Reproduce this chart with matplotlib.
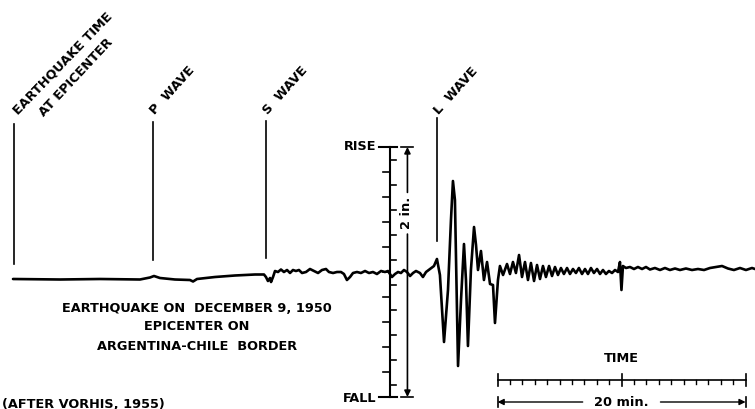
import matplotlib
matplotlib.use("Agg")
import matplotlib.pyplot as plt
import numpy as np

# ---- data: time in minutes after earthquake, ground motion in inches ----
trace_t = [-0.08, 3.71, 6.94, 10.16, 10.97, 11.29, 11.77, 12.98, 14.19, 14.44, 14.76, 16.21, 17.82, 19.44, 20.16,
           20.32, 20.48, 20.65, 20.73, 20.89, 21.05, 21.29, 21.53, 21.77, 22.02, 22.26, 22.50, 22.74, 22.98, 23.23,
           23.55, 23.87, 24.19, 24.52, 24.84, 25.16, 25.40, 25.73, 26.05, 26.37, 26.61, 26.85, 27.10, 27.34, 27.66,
           27.98, 28.31, 28.63, 28.95, 29.27, 29.60, 29.92, 30.16, 30.48, 30.73, 30.97, 31.21, 31.45, 31.69, 31.94,
           32.18, 32.42, 32.74, 32.98, 33.23, 33.55, 33.87, 34.11,
           34.35, 34.68, 35.00, 35.24, 35.40, 35.56, 35.81, 36.05, 36.29, 36.45, 36.61, 36.85, 37.10, 37.26, 37.42,
           37.66, 37.90, 38.15, 38.39, 38.63, 38.79, 39.03, 39.19, 39.44, 39.76, 40.00, 40.24, 40.48, 40.73, 40.97,
           41.21, 41.45, 41.69, 41.94, 42.18, 42.42, 42.66, 42.90, 43.15, 43.39, 43.63, 43.87, 44.11, 44.35, 44.60,
           44.84, 45.08, 45.32, 45.56, 45.81, 46.05, 46.29, 46.53, 46.77, 47.02, 47.26, 47.50, 47.74, 47.98, 48.23,
           48.47, 48.71, 48.87, 48.99, 49.11, 49.35,
           49.68, 50.00, 50.32, 50.65, 50.97, 51.29, 51.69, 52.10, 52.50, 52.90, 53.31, 53.71, 54.19, 54.68, 55.16,
           55.65, 56.13, 56.61, 57.10, 57.58, 58.06, 58.55, 59.03, 59.52, 59.76]
trace_d = [-0.056, -0.06, -0.056, -0.06, -0.044, -0.032, -0.048, -0.06, -0.064, -0.076, -0.056, -0.04, -0.028, -0.02, -0.02,
           -0.04, -0.072, -0.048, -0.08, -0.04, 0.008, 0.0, 0.02, 0.0, 0.016, -0.008, 0.016, 0.008, 0.016, -0.008,
           0.0, 0.024, 0.008, -0.008, 0.016, 0.024, 0.0, -0.008, 0.0, 0.0, -0.016, -0.064, -0.04, -0.008, 0.0,
           -0.008, 0.008, -0.008, 0.0, -0.016, 0.008, 0.0, 0.008, -0.04, -0.016, 0.0, -0.008, 0.016, 0.0, -0.032,
           -0.008, 0.008, -0.008, -0.04, 0.0, 0.024, 0.048, 0.104,
           -0.024, -0.56, -0.144, 0.416, 0.728, 0.576, -0.752, -0.224, 0.224, -0.064, -0.592, 0.016, 0.36, 0.216, 0.016,
           0.168, -0.064, 0.08, -0.096, -0.104, -0.408, -0.064, 0.048, -0.024, 0.064, -0.016, 0.08, -0.008, 0.136, -0.04,
           0.08, -0.064, 0.072, -0.072, 0.056, -0.056, 0.048, -0.04, 0.048, -0.032, 0.04, -0.024, 0.032, -0.016, 0.032,
           -0.016, 0.024, -0.008, 0.032, -0.016, 0.024, -0.016, 0.032, -0.008, 0.024, -0.016, 0.016, -0.016, 0.008, -0.008,
           0.016, 0.0, 0.08, -0.144, 0.048, 0.032,
           0.04, 0.024, 0.04, 0.024, 0.04, 0.02, 0.032, 0.016, 0.032, 0.016, 0.028, 0.016, 0.028, 0.016, 0.024,
           0.016, 0.032, 0.04, 0.048, 0.028, 0.016, 0.032, 0.016, 0.032, 0.024]

event_labels = ["EARTHQUAKE TIME\nAT EPICENTER", "P  WAVE", "S  WAVE", "L  WAVE"]
event_times = [0.0, 11.21, 20.32, 34.11]

scale_range_in = 1.0          # RISE / FALL  +-1 in  (2 in. total)
scale_step_in = 0.1
time_bar_start = 39.0
time_bar_minutes = 20

caption = ["EARTHQUAKE ON  DECEMBER 9, 1950", "EPICENTER ON", "ARGENTINA-CHILE  BORDER"]
credit = "(AFTER VORHIS, 1955)"

# ---- figure ----
fig = plt.figure(figsize=(7.55, 4.09), dpi=100)
ax = fig.add_axes([0, 0, 1, 1])
ax.set_xlim(-1.129, 59.76)
ax.set_ylim(-1.096, 2.176)
ax.axis("off")

font = dict(family="DejaVu Sans", fontsize=9.3, fontweight="bold", color="black")

# seismogram trace
ax.plot(trace_t, trace_d, color="black", lw=1.9, solid_joinstyle="round", solid_capstyle="round")

# event markers and labels
marker_tops = [1.184, 1.2, 1.208, 1.232]
marker_bots = [0.064, 0.096, 0.112, 0.248]
for i, (lab, t) in enumerate(zip(event_labels, event_times)):
    ax.plot([t, t], [marker_bots[i], marker_tops[i]], color="black", lw=1.2)
    if i == 0:
        ax.text(t + 0.3, 1.256, "EARTHQUAKE TIME", rotation=46, rotation_mode="anchor",
                ha="left", va="baseline", **font)
        ax.text(t + 2.4, 1.24, "AT EPICENTER", rotation=47, rotation_mode="anchor",
                ha="left", va="baseline", **font)
    else:
        ax.text(t + 0.15, 1.256, lab, rotation=48, rotation_mode="anchor",
                ha="left", va="baseline", **font)

# vertical amplitude scale
sx = 30.32
ax.plot([sx, sx], [-scale_range_in, scale_range_in], color="black", lw=1.5)
ax.plot([29.4, 30.9], [scale_range_in, scale_range_in], color="black", lw=1.5)
ax.plot([29.4, 30.9], [-scale_range_in, -scale_range_in], color="black", lw=1.5)
n = int(round(2 * scale_range_in / scale_step_in))
for k in range(1, n):
    yv = -scale_range_in + k * scale_step_in
    if k % 2 == 1:
        ax.plot([sx, sx + 0.45], [yv, yv], color="black", lw=1.2)
    else:
        ax.plot([sx - 0.55, sx], [yv, yv], color="black", lw=1.2)
ax.text(29.2, scale_range_in, "RISE", ha="right", va="center", **font)
ax.text(29.2, -scale_range_in - 0.015, "FALL", ha="right", va="center", **font)

# 2 in. double arrow
ax_x = 31.73
ax.plot([31.25, 32.2], [scale_range_in, scale_range_in], color="black", lw=1.2)
ax.plot([31.25, 32.2], [-scale_range_in, -scale_range_in], color="black", lw=1.2)
ax.annotate("", xy=(ax_x, scale_range_in), xytext=(ax_x, 0.47),
            arrowprops=dict(arrowstyle="-|>", color="black", lw=1.2, mutation_scale=9,
                            shrinkA=15, shrinkB=0))
ax.annotate("", xy=(ax_x, -scale_range_in), xytext=(ax_x, 0.47),
            arrowprops=dict(arrowstyle="-|>", color="black", lw=1.2, mutation_scale=9,
                            shrinkA=15, shrinkB=0))
ax.text(ax_x - 0.05, 0.47, "2 in.", rotation=90, ha="center", va="center", **font)

# time scale bar
ty = -0.864
t0, t1 = time_bar_start, time_bar_start + time_bar_minutes
ax.plot([t0, t1], [ty, ty], color="black", lw=1.2)
for m in range(time_bar_minutes + 1):
    tv = t0 + m
    if m % 10 == 0:
        ax.plot([tv, tv], [ty - 0.05, ty + 0.05], color="black", lw=1.2)
    else:
        ax.plot([tv, tv], [ty - 0.035, ty], color="black", lw=1.0)
ax.text((t0 + t1) / 2, -0.696, "TIME", ha="center", va="center", **font)

ay = -1.04
ax.annotate("", xy=(t0, ay), xytext=((t0 + t1) / 2, ay),
            arrowprops=dict(arrowstyle="-|>", color="black", lw=1.0, mutation_scale=9,
                            shrinkA=28, shrinkB=0))
ax.annotate("", xy=(t1, ay), xytext=((t0 + t1) / 2, ay),
            arrowprops=dict(arrowstyle="-|>", color="black", lw=1.0, mutation_scale=9,
                            shrinkA=28, shrinkB=0))
for tv in (t0, t1):
    ax.plot([tv, tv], [ay - 0.04, ay + 0.04], color="black", lw=1.2)
ax.text((t0 + t1) / 2, ay, "20 min.", ha="center", va="center", **font)

# caption
for i, line in enumerate(caption):
    ax.text(14.76, -0.288 - 0.152 * i, line, ha="center", va="center", **font)
ax.text(-0.97, -1.056, credit, ha="left", va="center", **font)

fig.savefig("out.png", dpi=100, facecolor="white")
